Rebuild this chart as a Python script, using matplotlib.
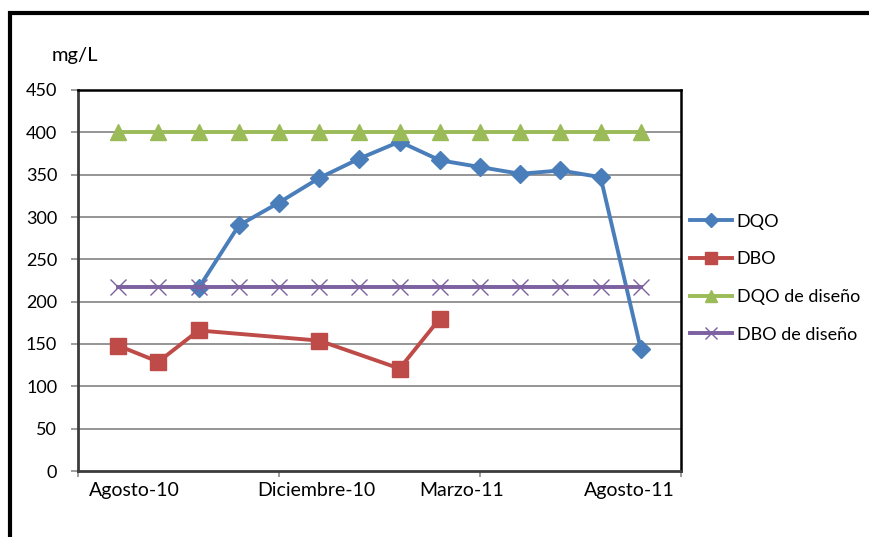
import matplotlib
matplotlib.use('Agg')
import matplotlib.pyplot as plt
from matplotlib.lines import Line2D

plt.rcParams['font.family'] = ['Lato', 'DejaVu Sans']

# ---- data ----
dqo_x = [3, 4, 5, 6, 7, 8, 9, 10, 11, 12, 13, 14]
dqo = [216, 290, 317, 346, 369, 389, 367, 359, 351, 355, 347, 144]
dbo_x = [1, 2, 3, 6, 8, 9]
dbo = [148, 129, 166, 154, 121, 180]
design_x = [1, 2, 3, 4, 5, 6, 7, 8, 9, 10, 11, 12, 13, 14]
dqo_design = [400, 400, 400, 400, 400, 400, 400, 400, 400, 400, 400, 400, 400, 400]
dbo_design = [217, 217, 217, 217, 217, 217, 217, 217, 217, 217, 217, 217, 217, 217]
x_labels = ['Agosto-10', 'Diciembre-10', 'Marzo-11', 'Agosto-11']
x_label_pos = [1.41, 5.94, 9.55, 13.72]
y_ticks = [0, 50, 100, 150, 200, 250, 300, 350, 400, 450]
series_names = ['DQO', 'DBO', 'DQO de diseño', 'DBO de diseño']

W, H = 869, 537
fig = plt.figure(figsize=(W / 100, H / 100), dpi=100)
ax = fig.add_axes([78 / W, (H - 471) / H, 603 / W, 381 / H])

blue = '#4A7EBB'
red = '#BE4B48'
green = '#9BBB59'
purple = '#7D60A0'

lw = 2.8
ax.plot(dqo_x, dqo, color=blue, lw=lw, marker='D', markersize=9, zorder=3)
ax.plot(dbo_x, dbo, color=red, lw=lw, marker='s', markersize=11, zorder=4)
ax.plot(design_x, dqo_design, color=green, lw=lw, marker='^', markersize=11.5, zorder=5)
ax.plot(design_x, dbo_design, color=purple, lw=lw, marker='x', markersize=11.5,
        markeredgewidth=1.0, zorder=6)

ax.set_xlim(0, 15)
ax.set_ylim(0, 450)
ax.set_yticks(y_ticks)
ax.set_xticks([0, 5, 10, 15])
ax.set_xticklabels([])
ax.set_xticks(x_label_pos, minor=True)
ax.set_xticklabels(x_labels, minor=True)
ax.tick_params(axis='x', which='minor', length=0, pad=8, labelsize=14)
ax.tick_params(axis='x', which='major', length=4, color='#8c8c8c', width=1.2, direction='out')
ax.tick_params(axis='y', length=5, color='#8c8c8c', width=1.2, direction='out', pad=10,
               labelsize=13)

for v in y_ticks[1:-1]:
    ax.axhline(v, color='#8c8c8c', lw=1.3, zorder=1)

for s in ['top', 'right']:
    ax.spines[s].set_color('black')
    ax.spines[s].set_linewidth(1.8)
for s in ['left', 'bottom']:
    ax.spines[s].set_color('#3c3c3c')
    ax.spines[s].set_linewidth(2.0)

fig.text(52 / W, 1 - 55 / H, 'mg/L', fontsize=14.5, va='center', ha='left')

handles = [
    Line2D([], [], color=blue, lw=lw, marker='D', markersize=7),
    Line2D([], [], color=red, lw=lw, marker='s', markersize=9),
    Line2D([], [], color=green, lw=lw, marker='^', markersize=9),
    Line2D([], [], color=purple, lw=lw, marker='x', markersize=9, markeredgewidth=1.0),
]
fig.legend(handles, series_names, loc='center left',
           bbox_to_anchor=(674 / W, 1 - 278 / H), frameon=False,
           fontsize=13, handlelength=2.3, handletextpad=0.28, labelspacing=1.2)

# outer border (left and top edges visible)
fig.add_artist(Line2D([10 / W, 10 / W, 1.01], [-0.01, 1 - 12.5 / H, 1 - 12.5 / H],
                      transform=fig.transFigure, color='black', lw=3.0,
                      solid_joinstyle='miter'))

fig.savefig('out.png', dpi=100)
